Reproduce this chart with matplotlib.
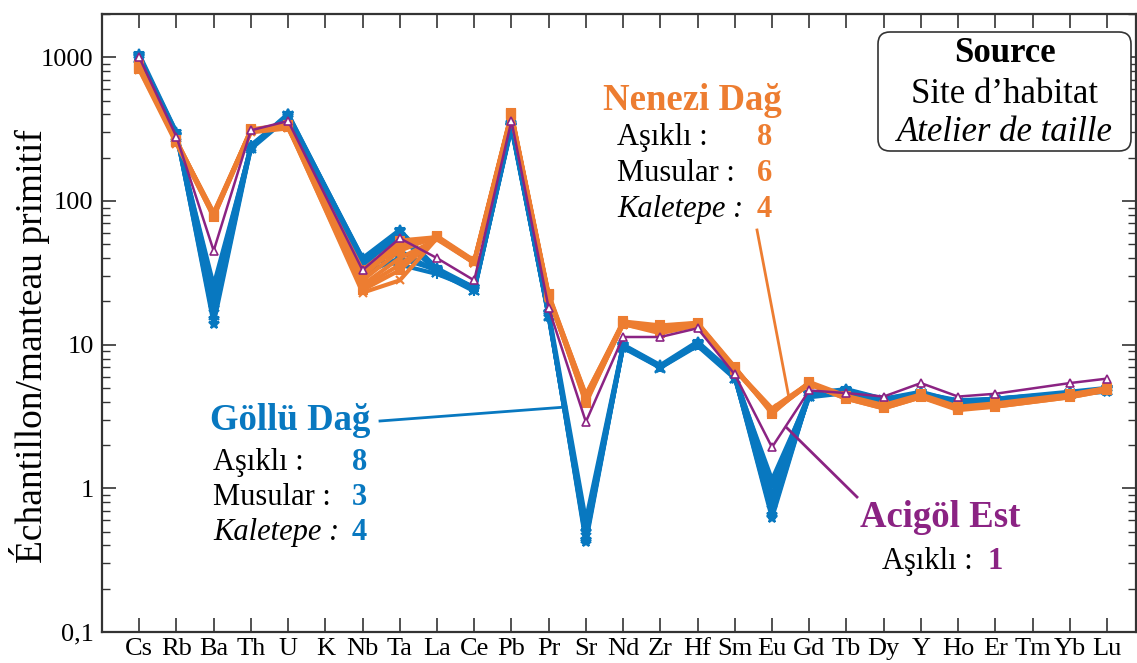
import numpy as np
import matplotlib.pyplot as plt
from matplotlib.patches import FancyBboxPatch
from matplotlib.lines import Line2D

# Spider diagram, values normalised to primitive mantle
elements = ['Cs', 'Rb', 'Ba', 'Th', 'U', 'K', 'Nb', 'Ta', 'La', 'Ce', 'Pb', 'Pr', 'Sr',
            'Nd', 'Zr', 'Hf', 'Sm', 'Eu', 'Gd', 'Tb', 'Dy', 'Y', 'Ho', 'Er', 'Tm', 'Yb', 'Lu']
# K and Tm were not measured
measured = ['Cs', 'Rb', 'Ba', 'Th', 'U', 'Nb', 'Ta', 'La', 'Ce', 'Pb', 'Pr', 'Sr',
            'Nd', 'Zr', 'Hf', 'Sm', 'Eu', 'Gd', 'Tb', 'Dy', 'Y', 'Ho', 'Er', 'Yb', 'Lu']

# Göllü Dağ samples
golludag = [
    [1050, 300, 14, 235, 400, 40, 63, 33, 25, 330, 16.5, 0.42, 9.8, 7.0, 10.2, 6.0, 0.62, 4.5, 4.8, 4.1, 4.6, 4.0, 4.2, 4.6, 4.9],
    [1000, 290, 16, 240, 390, 38, 60, 32, 24, 320, 16, 0.45, 9.6, 7.0, 10.0, 5.9, 0.70, 4.4, 4.7, 4.0, 4.5, 3.9, 4.1, 4.5, 4.8],
    [980, 285, 18, 230, 380, 37, 58, 33, 24.5, 340, 15.5, 0.50, 9.5, 6.9, 9.8, 5.8, 0.80, 4.3, 4.6, 4.1, 4.4, 3.9, 4.0, 4.5, 4.7],
    [960, 295, 21, 245, 395, 36, 57, 32, 23.5, 330, 16, 0.55, 9.9, 7.1, 10.3, 6.1, 0.90, 4.5, 4.8, 4.2, 4.6, 4.1, 4.2, 4.6, 4.9],
    [1020, 290, 24, 240, 405, 39, 62, 34, 25, 350, 17, 0.60, 10.0, 7.2, 10.5, 6.2, 1.05, 4.6, 4.9, 4.2, 4.7, 4.0, 4.2, 4.7, 5.0],
    [990, 280, 26, 235, 385, 35, 45, 32, 24, 325, 15.8, 0.48, 9.7, 6.9, 10.0, 5.9, 1.15, 4.4, 4.7, 4.1, 4.5, 3.9, 4.1, 4.5, 4.8],
    [1000, 290, 15, 240, 390, 31, 40, 33, 24, 330, 16, 0.44, 9.8, 7.0, 10.1, 6.0, 0.65, 4.5, 4.8, 4.1, 4.6, 4.0, 4.1, 4.6, 4.9],
    [1010, 300, 20, 238, 392, 40, 36, 31, 24.5, 335, 16.2, 0.52, 9.9, 7.0, 10.0, 6.0, 0.75, 4.5, 4.7, 4.0, 4.5, 3.9, 4.1, 4.6, 4.8],
]

# Nenezi Dağ samples
nenezidag = [
    [850, 260, 83, 310, 330, 33, 53, 56, 38, 400, 22, 4.5, 14.2, 13.3, 14.0, 6.8, 3.4, 5.4, 4.3, 3.7, 4.4, 3.6, 3.8, 4.4, 4.9],
    [820, 250, 78, 300, 320, 30, 50, 55, 37, 390, 21, 4.2, 14.0, 13.0, 13.8, 6.7, 3.5, 5.3, 4.2, 3.6, 4.3, 3.6, 3.7, 4.3, 4.8],
    [880, 265, 80, 315, 340, 28, 45, 57, 38.5, 410, 22.5, 4.4, 14.5, 13.6, 14.2, 7.0, 3.3, 5.5, 4.4, 3.8, 4.5, 3.7, 3.9, 4.5, 5.0],
    [860, 255, 82, 305, 335, 26, 40, 54, 37, 395, 21.5, 4.0, 13.8, 12.5, 13.5, 6.8, 3.6, 5.4, 4.3, 3.7, 4.4, 3.6, 3.8, 4.4, 4.9],
    [840, 260, 79, 310, 325, 24, 33, 56, 38, 400, 22, 3.9, 14.1, 13.2, 14.0, 6.9, 3.4, 5.3, 4.3, 3.7, 4.4, 3.6, 3.8, 4.4, 4.8],
    [870, 262, 81, 308, 330, 23, 28, 55, 37.5, 405, 21.8, 4.3, 14.3, 13.4, 14.1, 6.8, 3.5, 5.4, 4.3, 3.7, 4.4, 3.6, 3.8, 4.4, 4.9],
    [830, 258, 77, 312, 335, 25, 36, 56, 38, 398, 22, 4.1, 13.9, 12.0, 13.6, 6.7, 3.4, 5.3, 4.2, 3.6, 4.3, 3.5, 3.7, 4.3, 4.8],
    [855, 255, 80, 305, 330, 32, 47, 55, 37, 400, 21.5, 4.4, 14.0, 13.3, 14.0, 6.8, 3.5, 5.4, 4.3, 3.7, 4.4, 3.6, 3.8, 4.4, 4.9],
]

# Acigöl Est sample
acigol = [1000, 280, 45, 310, 360, 33, 55, 40, 28, 360, 18, 2.9, 11.3, 11.3, 13.0, 6.2, 1.93,
          4.8, 4.6, 4.35, 5.4, 4.35, 4.55, 5.4, 5.8]

blue = '#0878C0'
orange = '#ED7D31'
purple = '#8B2383'

plt.rcParams['font.family'] = 'Liberation Serif'

W, H = 1137, 663
fig = plt.figure(figsize=(W / 100, H / 100), dpi=100)
ax = fig.add_axes([102 / W, 1 - 632 / H, (1136 - 102) / W, (632 - 14) / H])

x = [elements.index(e) for e in measured]

blue_markers = ['*', 'x', '*', '+', '*', 'x', '*', '+']
orange_markers = ['s', 'x', 's', 'x', 's', 'x', 's', 'x']

for vals, m in zip(golludag, blue_markers):
    ax.plot(x, vals, color=blue, lw=3, marker=m, ms=7, mew=1.5)
for vals, m in zip(nenezidag, orange_markers):
    ax.plot(x, vals, color=orange, lw=3, marker=m, ms=6, mew=1.5)
ax.plot(x, acigol, color=purple, lw=1.8, marker='^', ms=6, mfc='white', mew=1.2)

ax.set_yscale('log')
ax.set_ylim(0.1, 2000)
ax.set_xlim(-1, 26.78)
ax.set_xticks(range(len(elements)))
ax.set_xticklabels(elements, fontsize=19)
ax.set_yticks([0.1, 1, 10, 100, 1000])
ax.set_yticklabels(['0,1', '1', '10', '100', '1000'], fontsize=19)
ax.tick_params(which='both', direction='in', top=True, right=True, color='#333333')
ax.tick_params(which='major', length=10, width=1.2)
ax.tick_params(which='minor', length=6, width=1.0)
ax.tick_params(axis='x', pad=4)
ax.tick_params(axis='y', pad=6)
for s in ax.spines.values():
    s.set_linewidth(1.6)
    s.set_color('#333333')


def px(xp, yp):
    return xp / W, 1 - yp / H


fig.text(*px(30, 346), 'Échantillon/manteau primitif', rotation=90,
         ha='center', va='center', fontsize=27)

# source box
box = FancyBboxPatch((878 / 100, (H - 151) / 100), 2.53, 1.19,
                     boxstyle='round,pad=0,rounding_size=0.12',
                     transform=fig.dpi_scale_trans, fc='white', ec='#333333', lw=1.2)
fig.patches.append(box)
fig.text(*px(1005, 62), 'Source', ha='center', va='baseline', fontsize=25, fontweight='bold')
fig.text(*px(1005, 103), 'Site d\u2019habitat', ha='center', va='baseline', fontsize=25)
fig.text(*px(1005, 141), 'Atelier de taille', ha='center', va='baseline', fontsize=25, style='italic')

# Nenezi Dağ
fig.text(*px(603, 110), 'Nenezi Dağ', color=orange, fontsize=26.5, fontweight='bold', va='baseline')
fig.text(*px(617, 145), 'Aşıklı :', fontsize=22, va='baseline')
fig.text(*px(757, 145), '8', color=orange, fontsize=22, fontweight='bold', va='baseline')
fig.text(*px(617, 181), 'Musular :', fontsize=22, va='baseline')
fig.text(*px(757, 181), '6', color=orange, fontsize=22, fontweight='bold', va='baseline')
fig.text(*px(617, 217), 'Kaletepe :', fontsize=22, va='baseline', style='italic')
fig.text(*px(757, 217), '4', color=orange, fontsize=22, fontweight='bold', va='baseline')

# Göllü Dağ
fig.text(*px(210, 430), 'Göllü Dağ', color=blue, fontsize=26.5, fontweight='bold', va='baseline')
fig.text(*px(213, 470), 'Aşıklı :', fontsize=22, va='baseline')
fig.text(*px(352, 470), '8', color=blue, fontsize=22, fontweight='bold', va='baseline')
fig.text(*px(213, 505), 'Musular :', fontsize=22, va='baseline')
fig.text(*px(352, 505), '3', color=blue, fontsize=22, fontweight='bold', va='baseline')
fig.text(*px(213, 540), 'Kaletepe :', fontsize=22, va='baseline', style='italic')
fig.text(*px(352, 540), '4', color=blue, fontsize=22, fontweight='bold', va='baseline')

# Acigöl Est
fig.text(*px(860, 527), 'Acigöl Est', color=purple, fontsize=26.5, fontweight='bold', va='baseline')
fig.text(*px(882, 569), 'Aşıklı : ', fontsize=22, va='baseline')
fig.text(*px(987, 569), '1', color=purple, fontsize=22, fontweight='bold', va='baseline')

# connector lines
for (x0, y0, x1, y1), c in [((757, 230, 789, 398), orange),
                            ((380, 421, 566, 407), blue),
                            ((857, 497, 787, 428), purple)]:
    fig.lines.append(Line2D([x0 / W, x1 / W], [1 - y0 / H, 1 - y1 / H],
                            transform=fig.transFigure, color=c, lw=2))

fig.savefig('out.png', dpi=100)
